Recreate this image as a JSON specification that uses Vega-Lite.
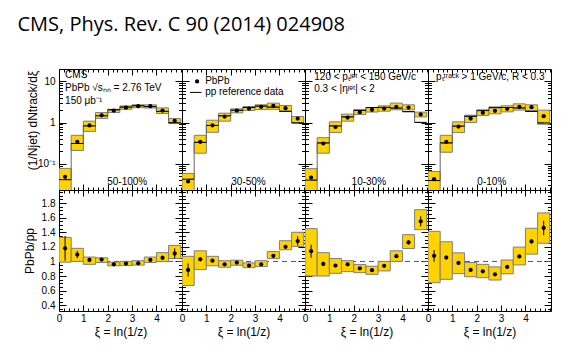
{
"$schema":"https://vega.github.io/schema/vega-lite/v6.json",
"padding":{"left":17,"top":15,"right":5,"bottom":5},
"background":"white",
"title":{"text":"CMS, Phys. Rev. C 90 (2014) 024908","anchor":"start","frame":"bounds","font":"Open Sans","fontSize":20,"fontWeight":"normal","color":"black","baseline":"alphabetic","offset":17,"dx":-5},
"config":{
 "view":{"stroke":"black","strokeWidth":1},
 "axis":{"labelFont":"Liberation Sans","labelFontSize":10,"labelColor":"black","titleFont":"Liberation Sans","titleFontSize":12,"titleFontWeight":"normal","titleColor":"black","tickColor":"black","domain":false,"grid":false,"labelFlush":false,"labelOverlap":false,"zindex":1},
 "text":{"font":"Liberation Sans","color":"black"}
},
"data":{"values":[
{"c":"50-100%","lo":0,"hi":0.5,"x":0.25,"pb":0.048,"shi":0.077,"slo":0.015,"pp":0.041,"r":1.18,"rhi":1.33,"rlo":0.99,"el":1.01,"eh":1.35},
{"c":"50-100%","lo":0.5,"hi":1,"x":0.75,"pb":0.34,"shi":0.49,"slo":0.21,"pp":0.31,"r":1.095,"rhi":1.18,"rlo":1.0,"el":1.045,"eh":1.145},
{"c":"50-100%","lo":1,"hi":1.5,"x":1.25,"pb":0.85,"shi":1.08,"slo":0.61,"pp":0.83,"r":1.02,"rhi":1.06,"rlo":0.96,"el":0.99,"eh":1.05},
{"c":"50-100%","lo":1.5,"hi":2,"x":1.75,"pb":1.5,"shi":1.75,"slo":1.25,"pp":1.46,"r":1.025,"rhi":1.05,"rlo":0.985,"el":1.005,"eh":1.045},
{"c":"50-100%","lo":2,"hi":2.5,"x":2.25,"pb":1.96,"shi":2.1,"slo":1.75,"pp":2.04,"r":0.96,"rhi":0.99,"rlo":0.94,"el":0.945,"eh":0.975},
{"c":"50-100%","lo":2.5,"hi":3,"x":2.75,"pb":2.3,"shi":2.54,"slo":2.1,"pp":2.37,"r":0.97,"rhi":1.0,"rlo":0.943,"el":0.955,"eh":0.985},
{"c":"50-100%","lo":3,"hi":3.5,"x":3.25,"pb":2.5,"shi":2.7,"slo":2.3,"pp":2.56,"r":0.975,"rhi":1.01,"rlo":0.95,"el":0.96,"eh":0.99},
{"c":"50-100%","lo":3.5,"hi":4,"x":3.75,"pb":2.5,"shi":2.7,"slo":2.25,"pp":2.45,"r":1.02,"rhi":1.06,"rlo":0.985,"el":1.005,"eh":1.035},
{"c":"50-100%","lo":4,"hi":4.5,"x":4.25,"pb":1.96,"shi":2.27,"slo":1.66,"pp":1.87,"r":1.05,"rhi":1.12,"rlo":1.0,"el":1.02,"eh":1.08},
{"c":"50-100%","lo":4.5,"hi":5,"x":4.75,"pb":1.1,"shi":1.25,"slo":0.95,"pp":0.99,"r":1.11,"rhi":1.22,"rlo":1.04,"el":1.04,"eh":1.18},
{"c":"30-50%","lo":0,"hi":0.5,"x":0.25,"pb":0.037,"shi":0.058,"slo":0.015,"pp":0.042,"r":0.883,"rhi":1.07,"rlo":0.67,"el":0.793,"eh":0.973},
{"c":"30-50%","lo":0.5,"hi":1,"x":0.75,"pb":0.34,"shi":0.49,"slo":0.18,"pp":0.33,"r":1.03,"rhi":1.146,"rlo":0.888,"el":1.0,"eh":1.06},
{"c":"30-50%","lo":1,"hi":1.5,"x":1.25,"pb":0.86,"shi":1.14,"slo":0.58,"pp":0.85,"r":1.01,"rhi":1.07,"rlo":0.94,"el":0.99,"eh":1.03},
{"c":"30-50%","lo":1.5,"hi":2,"x":1.75,"pb":1.4,"shi":1.69,"slo":1.08,"pp":1.46,"r":0.96,"rhi":1.01,"rlo":0.92,"el":0.945,"eh":0.975},
{"c":"30-50%","lo":2,"hi":2.5,"x":2.25,"pb":1.96,"shi":2.15,"slo":1.72,"pp":1.99,"r":0.985,"rhi":1.017,"rlo":0.948,"el":0.97,"eh":1.0},
{"c":"30-50%","lo":2.5,"hi":3,"x":2.75,"pb":2.19,"shi":2.46,"slo":1.96,"pp":2.32,"r":0.943,"rhi":0.98,"rlo":0.915,"el":0.928,"eh":0.958},
{"c":"30-50%","lo":3,"hi":3.5,"x":3.25,"pb":2.41,"shi":2.7,"slo":2.07,"pp":2.51,"r":0.96,"rhi":1.01,"rlo":0.93,"el":0.945,"eh":0.975},
{"c":"30-50%","lo":3.5,"hi":4,"x":3.75,"pb":2.55,"shi":2.96,"slo":2.1,"pp":2.37,"r":1.077,"rhi":1.137,"rlo":1.04,"el":1.057,"eh":1.097},
{"c":"30-50%","lo":4,"hi":4.5,"x":4.25,"pb":2.24,"shi":2.6,"slo":1.89,"pp":1.87,"r":1.2,"rhi":1.284,"rlo":1.16,"el":1.17,"eh":1.23},
{"c":"30-50%","lo":4.5,"hi":5,"x":4.75,"pb":1.25,"shi":1.4,"slo":1.0,"pp":0.98,"r":1.28,"rhi":1.4,"rlo":1.206,"el":1.215,"eh":1.345},
{"c":"10-30%","lo":0,"hi":0.5,"x":0.25,"pb":0.046,"shi":0.076,"slo":0.015,"pp":0.04,"r":1.14,"rhi":1.45,"rlo":0.8,"el":1.05,"eh":1.23},
{"c":"10-30%","lo":0.5,"hi":1,"x":0.75,"pb":0.31,"shi":0.43,"slo":0.18,"pp":0.32,"r":0.966,"rhi":1.12,"rlo":0.8,"el":0.936,"eh":0.996},
{"c":"10-30%","lo":1,"hi":1.5,"x":1.25,"pb":0.78,"shi":1.04,"slo":0.57,"pp":0.83,"r":0.943,"rhi":1.04,"rlo":0.837,"el":0.923,"eh":0.963},
{"c":"10-30%","lo":1.5,"hi":2,"x":1.75,"pb":1.32,"shi":1.6,"slo":1.08,"pp":1.375,"r":0.96,"rhi":1.01,"rlo":0.86,"el":0.945,"eh":0.975},
{"c":"10-30%","lo":2,"hi":2.5,"x":2.25,"pb":1.79,"shi":2.04,"slo":1.57,"pp":1.98,"r":0.906,"rhi":0.957,"rlo":0.846,"el":0.891,"eh":0.921},
{"c":"10-30%","lo":2.5,"hi":3,"x":2.75,"pb":2.04,"shi":2.3,"slo":1.8,"pp":2.32,"r":0.88,"rhi":0.934,"rlo":0.823,"el":0.865,"eh":0.895},
{"c":"10-30%","lo":3,"hi":3.5,"x":3.25,"pb":2.19,"shi":2.55,"slo":1.89,"pp":2.33,"r":0.94,"rhi":1.0,"rlo":0.87,"el":0.925,"eh":0.955},
{"c":"10-30%","lo":3.5,"hi":4,"x":3.75,"pb":2.41,"shi":2.97,"slo":2.04,"pp":2.25,"r":1.072,"rhi":1.146,"rlo":1.0,"el":1.052,"eh":1.092},
{"c":"10-30%","lo":4,"hi":4.5,"x":4.25,"pb":2.32,"shi":2.7,"slo":2.04,"pp":1.84,"r":1.26,"rhi":1.367,"rlo":1.178,"el":1.23,"eh":1.29},
{"c":"10-30%","lo":4.5,"hi":5,"x":4.75,"pb":1.57,"shi":1.79,"slo":1.37,"pp":1.01,"r":1.55,"rhi":1.71,"rlo":1.436,"el":1.48,"eh":1.62},
{"c":"0-10%","lo":0,"hi":0.5,"x":0.25,"pb":0.042,"shi":0.065,"slo":0.015,"pp":0.039,"r":1.077,"rhi":1.413,"rlo":0.708,"el":0.997,"eh":1.157},
{"c":"0-10%","lo":0.5,"hi":1,"x":0.75,"pb":0.34,"shi":0.49,"slo":0.19,"pp":0.32,"r":1.054,"rhi":1.27,"rlo":0.755,"el":1.024,"eh":1.084},
{"c":"0-10%","lo":1,"hi":1.5,"x":1.25,"pb":0.8,"shi":1.04,"slo":0.57,"pp":0.82,"r":0.98,"rhi":1.118,"rlo":0.833,"el":0.96,"eh":1.0},
{"c":"0-10%","lo":1.5,"hi":2,"x":1.75,"pb":1.25,"shi":1.51,"slo":1.0,"pp":1.42,"r":0.883,"rhi":0.985,"rlo":0.79,"el":0.868,"eh":0.898},
{"c":"0-10%","lo":2,"hi":2.5,"x":2.25,"pb":1.72,"shi":1.93,"slo":1.48,"pp":1.99,"r":0.865,"rhi":0.96,"rlo":0.777,"el":0.85,"eh":0.88},
{"c":"0-10%","lo":2.5,"hi":3,"x":2.75,"pb":1.93,"shi":2.24,"slo":1.63,"pp":2.35,"r":0.823,"rhi":0.925,"rlo":0.745,"el":0.808,"eh":0.838},
{"c":"0-10%","lo":3,"hi":3.5,"x":3.25,"pb":2.15,"shi":2.55,"slo":1.82,"pp":2.32,"r":0.925,"rhi":1.02,"rlo":0.83,"el":0.91,"eh":0.94},
{"c":"0-10%","lo":3.5,"hi":4,"x":3.75,"pb":2.41,"shi":2.85,"slo":2.0,"pp":2.26,"r":1.068,"rhi":1.197,"rlo":0.952,"el":1.048,"eh":1.088},
{"c":"0-10%","lo":4,"hi":4.5,"x":4.25,"pb":2.37,"shi":2.7,"slo":1.96,"pp":1.86,"r":1.275,"rhi":1.455,"rlo":1.1,"el":1.245,"eh":1.305},
{"c":"0-10%","lo":4.5,"hi":5,"x":4.75,"pb":1.43,"shi":2.0,"slo":0.91,"pp":0.98,"r":1.46,"rhi":1.666,"rlo":1.25,"el":1.36,"eh":1.56}
]},
"columns":4,
"spacing":0,
"bounds":"flush",
"align":"all",
"concat":[
{
 "width":123,"height":121,
 "transform":[{"filter":"datum.c == '50-100%'"}],
 "resolve":{"axis":{"x":"independent","y":"independent"}},
 "layer":[
  {"mark":{"type":"rect","fill":"#FFD300","stroke":"#7F7F7F","strokeWidth":1,"clip":true},
   "encoding":{
    "x":{"field":"lo","type":"quantitative","scale":{"domain":[0,5.05],"nice":false,"zero":false},"axis":{"orient":"bottom","values":[0,1,2,3,4],"tickSize":-6,"labels":false,"title":null}},
    "x2":{"field":"hi"},
    "y":{"field":"shi","type":"quantitative","scale":{"type":"log","domain":[0.023,20],"nice":false},"axis":{"orient":"left","values":[0.1,1,10],"tickSize":-7,"labelPadding":11,"labelExpr":"datum.value < 0.5 ? '10⁻¹' : (datum.value > 5 ? '10' : '1')","title":"(1/Njet) dNtrack/dξ","titleX":-20,"titleY":51}},
    "y2":{"field":"slo"}}},
  {"mark":{"type":"line","interpolate":"step","color":"#666666","strokeWidth":1,"clip":true},
   "encoding":{"x":{"field":"x","type":"quantitative","axis":{"orient":"top","values":[0,1,2,3,4],"tickSize":-6,"labels":false,"title":null}},
    "y":{"field":"pp","type":"quantitative","axis":{"orient":"right","values":[0.1,1,10],"tickSize":-7,"labels":false,"title":null}}}},
  {"mark":{"type":"rule","color":"black","strokeWidth":1,"clip":true},
   "encoding":{"x":{"field":"lo","type":"quantitative","axis":{"orient":"bottom","values":[0.2,0.4,0.6,0.8,1.2,1.4,1.6,1.8,2.2,2.4,2.6,2.8,3.2,3.4,3.6,3.8,4.2,4.4,4.6,4.8,5],"tickSize":-3,"labels":false,"title":null}},"x2":{"field":"hi"},
    "y":{"field":"pp","type":"quantitative","axis":{"orient":"left","values":[0.03,0.04,0.05,0.06,0.07,0.08,0.09,0.2,0.3,0.4,0.5,0.6,0.7,0.8,0.9,2,3,4,5,6,7,8,9],"tickSize":-3.5,"labels":false,"title":null}}}},
  {"mark":{"type":"point","filled":true,"color":"black","size":18,"opacity":1},
   "encoding":{"x":{"field":"x","type":"quantitative","axis":{"orient":"top","values":[0.2,0.4,0.6,0.8,1.2,1.4,1.6,1.8,2.2,2.4,2.6,2.8,3.2,3.4,3.6,3.8,4.2,4.4,4.6,4.8,5],"tickSize":-3,"labels":false,"title":null}},
    "y":{"field":"pb","type":"quantitative","axis":{"orient":"right","values":[0.03,0.04,0.05,0.06,0.07,0.08,0.09,0.2,0.3,0.4,0.5,0.6,0.7,0.8,0.9,2,3,4,5,6,7,8,9],"tickSize":-3.5,"labels":false,"title":null}}}},
  {"data":{"values":[{}]},"mark":{"type":"text","align":"left","baseline":"top","fontSize":10,"lineHeight":13},
   "encoding":{"x":{"datum":0.25,"axis":null},"y":{"datum":18.5,"axis":null},"text":{"value":["CMS","PbPb √sₙₙ = 2.76 TeV","150 μb⁻¹"]}}},
  {"data":{"values":[{}]},"mark":{"type":"text","align":"center","baseline":"middle","fontSize":10},
   "encoding":{"x":{"datum":2.8,"axis":null},"y":{"datum":0.035,"axis":null},"text":{"value":"50-100%"}}}
 ]
},
{
 "width":123,"height":121,
 "transform":[{"filter":"datum.c == '30-50%'"}],
 "resolve":{"axis":{"x":"independent","y":"independent"}},
 "layer":[
  {"mark":{"type":"rect","fill":"#FFD300","stroke":"#7F7F7F","strokeWidth":1,"clip":true},
   "encoding":{
    "x":{"field":"lo","type":"quantitative","scale":{"domain":[0,5.05],"nice":false,"zero":false},"axis":{"orient":"bottom","values":[0,1,2,3,4],"tickSize":-6,"labels":false,"title":null}},
    "x2":{"field":"hi"},
    "y":{"field":"shi","type":"quantitative","scale":{"type":"log","domain":[0.023,20],"nice":false},"axis":{"orient":"left","values":[0.1,1,10],"tickSize":-7,"labels":false,"title":null}},
    "y2":{"field":"slo"}}},
  {"mark":{"type":"line","interpolate":"step","color":"#666666","strokeWidth":1,"clip":true},
   "encoding":{"x":{"field":"x","type":"quantitative","axis":{"orient":"top","values":[0,1,2,3,4],"tickSize":-6,"labels":false,"title":null}},
    "y":{"field":"pp","type":"quantitative","axis":{"orient":"right","values":[0.1,1,10],"tickSize":-7,"labels":false,"title":null}}}},
  {"mark":{"type":"rule","color":"black","strokeWidth":1,"clip":true},
   "encoding":{"x":{"field":"lo","type":"quantitative","axis":{"orient":"bottom","values":[0.2,0.4,0.6,0.8,1.2,1.4,1.6,1.8,2.2,2.4,2.6,2.8,3.2,3.4,3.6,3.8,4.2,4.4,4.6,4.8,5],"tickSize":-3,"labels":false,"title":null}},"x2":{"field":"hi"},
    "y":{"field":"pp","type":"quantitative","axis":{"orient":"left","values":[0.03,0.04,0.05,0.06,0.07,0.08,0.09,0.2,0.3,0.4,0.5,0.6,0.7,0.8,0.9,2,3,4,5,6,7,8,9],"tickSize":-3.5,"labels":false,"title":null}}}},
  {"mark":{"type":"point","filled":true,"color":"black","size":18,"opacity":1},
   "encoding":{"x":{"field":"x","type":"quantitative","axis":{"orient":"top","values":[0.2,0.4,0.6,0.8,1.2,1.4,1.6,1.8,2.2,2.4,2.6,2.8,3.2,3.4,3.6,3.8,4.2,4.4,4.6,4.8,5],"tickSize":-3,"labels":false,"title":null}},
    "y":{"field":"pb","type":"quantitative","axis":{"orient":"right","values":[0.03,0.04,0.05,0.06,0.07,0.08,0.09,0.2,0.3,0.4,0.5,0.6,0.7,0.8,0.9,2,3,4,5,6,7,8,9],"tickSize":-3.5,"labels":false,"title":null}}}},
  {"data":{"values":[{}]},"mark":{"type":"point","filled":true,"color":"black","size":18,"opacity":1},
   "encoding":{"x":{"datum":0.62,"axis":null},"y":{"datum":10,"axis":null}}},
  {"data":{"values":[{}]},"mark":{"type":"rule","color":"black","strokeWidth":1},
   "encoding":{"x":{"datum":0.33,"axis":null},"x2":{"datum":0.8},"y":{"datum":5.4,"axis":null}}},
  {"data":{"values":[{}]},"mark":{"type":"text","align":"left","baseline":"top","fontSize":10,"lineHeight":11},
   "encoding":{"x":{"datum":0.95,"axis":null},"y":{"datum":13.2,"axis":null},"text":{"value":["PbPb","pp reference data"]}}},
  {"data":{"values":[{}]},"mark":{"type":"text","align":"center","baseline":"middle","fontSize":10},
   "encoding":{"x":{"datum":2.73,"axis":null},"y":{"datum":0.035,"axis":null},"text":{"value":"30-50%"}}}
 ]
},
{
 "width":123,"height":121,
 "transform":[{"filter":"datum.c == '10-30%'"}],
 "resolve":{"axis":{"x":"independent","y":"independent"}},
 "layer":[
  {"mark":{"type":"rect","fill":"#FFD300","stroke":"#7F7F7F","strokeWidth":1,"clip":true},
   "encoding":{
    "x":{"field":"lo","type":"quantitative","scale":{"domain":[0,5.05],"nice":false,"zero":false},"axis":{"orient":"bottom","values":[0,1,2,3,4],"tickSize":-6,"labels":false,"title":null}},
    "x2":{"field":"hi"},
    "y":{"field":"shi","type":"quantitative","scale":{"type":"log","domain":[0.023,20],"nice":false},"axis":{"orient":"left","values":[0.1,1,10],"tickSize":-7,"labels":false,"title":null}},
    "y2":{"field":"slo"}}},
  {"mark":{"type":"line","interpolate":"step","color":"#666666","strokeWidth":1,"clip":true},
   "encoding":{"x":{"field":"x","type":"quantitative","axis":{"orient":"top","values":[0,1,2,3,4],"tickSize":-6,"labels":false,"title":null}},
    "y":{"field":"pp","type":"quantitative","axis":{"orient":"right","values":[0.1,1,10],"tickSize":-7,"labels":false,"title":null}}}},
  {"mark":{"type":"rule","color":"black","strokeWidth":1,"clip":true},
   "encoding":{"x":{"field":"lo","type":"quantitative","axis":{"orient":"bottom","values":[0.2,0.4,0.6,0.8,1.2,1.4,1.6,1.8,2.2,2.4,2.6,2.8,3.2,3.4,3.6,3.8,4.2,4.4,4.6,4.8,5],"tickSize":-3,"labels":false,"title":null}},"x2":{"field":"hi"},
    "y":{"field":"pp","type":"quantitative","axis":{"orient":"left","values":[0.03,0.04,0.05,0.06,0.07,0.08,0.09,0.2,0.3,0.4,0.5,0.6,0.7,0.8,0.9,2,3,4,5,6,7,8,9],"tickSize":-3.5,"labels":false,"title":null}}}},
  {"mark":{"type":"point","filled":true,"color":"black","size":18,"opacity":1},
   "encoding":{"x":{"field":"x","type":"quantitative","axis":{"orient":"top","values":[0.2,0.4,0.6,0.8,1.2,1.4,1.6,1.8,2.2,2.4,2.6,2.8,3.2,3.4,3.6,3.8,4.2,4.4,4.6,4.8,5],"tickSize":-3,"labels":false,"title":null}},
    "y":{"field":"pb","type":"quantitative","axis":{"orient":"right","values":[0.03,0.04,0.05,0.06,0.07,0.08,0.09,0.2,0.3,0.4,0.5,0.6,0.7,0.8,0.9,2,3,4,5,6,7,8,9],"tickSize":-3.5,"labels":false,"title":null}}}},
  {"data":{"values":[{}]},"mark":{"type":"text","align":"left","baseline":"top","fontSize":10,"lineHeight":11.5},
   "encoding":{"x":{"datum":0.38,"axis":null},"y":{"datum":16.9,"axis":null},"text":{"value":["120 < pₜʲᵉᵗ < 150 GeV/c","0.3 < |ηʲᵉᵗ| < 2"]}}},
  {"data":{"values":[{}]},"mark":{"type":"text","align":"center","baseline":"middle","fontSize":10},
   "encoding":{"x":{"datum":2.62,"axis":null},"y":{"datum":0.035,"axis":null},"text":{"value":"10-30%"}}}
 ]
},
{
 "width":123,"height":121,
 "transform":[{"filter":"datum.c == '0-10%'"}],
 "resolve":{"axis":{"x":"independent","y":"independent"}},
 "layer":[
  {"mark":{"type":"rect","fill":"#FFD300","stroke":"#7F7F7F","strokeWidth":1,"clip":true},
   "encoding":{
    "x":{"field":"lo","type":"quantitative","scale":{"domain":[0,5.05],"nice":false,"zero":false},"axis":{"orient":"bottom","values":[0,1,2,3,4],"tickSize":-6,"labels":false,"title":null}},
    "x2":{"field":"hi"},
    "y":{"field":"shi","type":"quantitative","scale":{"type":"log","domain":[0.023,20],"nice":false},"axis":{"orient":"left","values":[0.1,1,10],"tickSize":-7,"labels":false,"title":null}},
    "y2":{"field":"slo"}}},
  {"mark":{"type":"line","interpolate":"step","color":"#666666","strokeWidth":1,"clip":true},
   "encoding":{"x":{"field":"x","type":"quantitative","axis":{"orient":"top","values":[0,1,2,3,4],"tickSize":-6,"labels":false,"title":null}},
    "y":{"field":"pp","type":"quantitative","axis":{"orient":"right","values":[0.1,1,10],"tickSize":-7,"labels":false,"title":null}}}},
  {"mark":{"type":"rule","color":"black","strokeWidth":1,"clip":true},
   "encoding":{"x":{"field":"lo","type":"quantitative","axis":{"orient":"bottom","values":[0.2,0.4,0.6,0.8,1.2,1.4,1.6,1.8,2.2,2.4,2.6,2.8,3.2,3.4,3.6,3.8,4.2,4.4,4.6,4.8,5],"tickSize":-3,"labels":false,"title":null}},"x2":{"field":"hi"},
    "y":{"field":"pp","type":"quantitative","axis":{"orient":"left","values":[0.03,0.04,0.05,0.06,0.07,0.08,0.09,0.2,0.3,0.4,0.5,0.6,0.7,0.8,0.9,2,3,4,5,6,7,8,9],"tickSize":-3.5,"labels":false,"title":null}}}},
  {"mark":{"type":"point","filled":true,"color":"black","size":18,"opacity":1},
   "encoding":{"x":{"field":"x","type":"quantitative","axis":{"orient":"top","values":[0.2,0.4,0.6,0.8,1.2,1.4,1.6,1.8,2.2,2.4,2.6,2.8,3.2,3.4,3.6,3.8,4.2,4.4,4.6,4.8,5],"tickSize":-3,"labels":false,"title":null}},
    "y":{"field":"pb","type":"quantitative","axis":{"orient":"right","values":[0.03,0.04,0.05,0.06,0.07,0.08,0.09,0.2,0.3,0.4,0.5,0.6,0.7,0.8,0.9,2,3,4,5,6,7,8,9],"tickSize":-3.5,"labels":false,"title":null}}}},
  {"data":{"values":[{}]},"mark":{"type":"text","align":"left","baseline":"top","fontSize":10},
   "encoding":{"x":{"datum":0.33,"axis":null},"y":{"datum":16.9,"axis":null},"text":{"value":"pₜᵗʳᵃᶜᵏ > 1 GeV/c, R < 0.3"}}},
  {"data":{"values":[{}]},"mark":{"type":"text","align":"center","baseline":"middle","fontSize":10},
   "encoding":{"x":{"datum":2.62,"axis":null},"y":{"datum":0.035,"axis":null},"text":{"value":"0-10%"}}}
 ]
},
{
 "width":123,"height":121,
 "transform":[{"filter":"datum.c == '50-100%'"}],
 "resolve":{"axis":{"x":"independent","y":"independent"}},
 "layer":[
  {"data":{"values":[{}]},"mark":{"type":"rule","strokeDash":[5,4],"color":"#555555","strokeWidth":1},"encoding":{"y":{"datum":1,"axis":null}}},
  {"mark":{"type":"rect","fill":"#FFD300","stroke":"#7F7F7F","strokeWidth":1,"clip":true},
   "encoding":{"x":{"field":"lo","type":"quantitative","scale":{"domain":[0,5.05],"nice":false,"zero":false},"axis":{"orient":"bottom","values":[0,1,2,3,4],"tickSize":-6,"labelPadding":8,"title":"ξ = ln(1/z)","titlePadding":3}},"x2":{"field":"hi"},
    "y":{"field":"rhi","type":"quantitative","scale":{"domain":[0.32,1.98],"nice":false,"zero":false},"axis":{"orient":"left","values":[0.4,0.6,0.8,1,1.2,1.4,1.6,1.8],"format":"~g","tickSize":-7,"labelPadding":11,"title":"PbPb/pp","titleX":-23}},"y2":{"field":"rlo"}}},
  {"mark":{"type":"rule","color":"black","strokeWidth":1},
   "encoding":{"x":{"field":"x","type":"quantitative","axis":{"orient":"top","values":[0,1,2,3,4],"tickSize":-6,"labels":false,"title":null}},"y":{"field":"el","type":"quantitative","axis":{"orient":"right","values":[0.4,0.6,0.8,1,1.2,1.4,1.6,1.8],"tickSize":-7,"labels":false,"title":null}},"y2":{"field":"eh"}}},
  {"mark":{"type":"point","filled":true,"color":"black","size":18,"opacity":1},
   "encoding":{"x":{"field":"x","type":"quantitative","axis":{"orient":"bottom","values":[0.2,0.4,0.6,0.8,1.2,1.4,1.6,1.8,2.2,2.4,2.6,2.8,3.2,3.4,3.6,3.8,4.2,4.4,4.6,4.8,5],"tickSize":-3,"labels":false,"title":null}},"y":{"field":"r","type":"quantitative","axis":{"orient":"left","values":[0.35,0.45,0.5,0.55,0.65,0.7,0.75,0.85,0.9,0.95,1.05,1.1,1.15,1.25,1.3,1.35,1.45,1.5,1.55,1.65,1.7,1.75,1.85,1.9,1.95],"tickSize":-3.5,"labels":false,"title":null}}}},
  {"mark":{"type":"point","opacity":0},
   "encoding":{"x":{"field":"x","type":"quantitative","axis":{"orient":"top","values":[0.2,0.4,0.6,0.8,1.2,1.4,1.6,1.8,2.2,2.4,2.6,2.8,3.2,3.4,3.6,3.8,4.2,4.4,4.6,4.8,5],"tickSize":-3,"labels":false,"title":null}},"y":{"field":"r","type":"quantitative","axis":{"orient":"right","values":[0.35,0.45,0.5,0.55,0.65,0.7,0.75,0.85,0.9,0.95,1.05,1.1,1.15,1.25,1.3,1.35,1.45,1.5,1.55,1.65,1.7,1.75,1.85,1.9,1.95],"tickSize":-3.5,"labels":false,"title":null}}}}
 ]
},
{
 "width":123,"height":121,
 "transform":[{"filter":"datum.c == '30-50%'"}],
 "resolve":{"axis":{"x":"independent","y":"independent"}},
 "layer":[
  {"data":{"values":[{}]},"mark":{"type":"rule","strokeDash":[5,4],"color":"#555555","strokeWidth":1},"encoding":{"y":{"datum":1,"axis":null}}},
  {"mark":{"type":"rect","fill":"#FFD300","stroke":"#7F7F7F","strokeWidth":1,"clip":true},
   "encoding":{"x":{"field":"lo","type":"quantitative","scale":{"domain":[0,5.05],"nice":false,"zero":false},"axis":{"orient":"bottom","values":[0,1,2,3,4],"tickSize":-6,"labelPadding":8,"title":"ξ = ln(1/z)","titlePadding":3}},"x2":{"field":"hi"},
    "y":{"field":"rhi","type":"quantitative","scale":{"domain":[0.32,1.98],"nice":false,"zero":false},"axis":{"orient":"left","values":[0.4,0.6,0.8,1,1.2,1.4,1.6,1.8],"tickSize":-7,"labels":false,"title":null}},"y2":{"field":"rlo"}}},
  {"mark":{"type":"rule","color":"black","strokeWidth":1},
   "encoding":{"x":{"field":"x","type":"quantitative","axis":{"orient":"top","values":[0,1,2,3,4],"tickSize":-6,"labels":false,"title":null}},"y":{"field":"el","type":"quantitative","axis":{"orient":"right","values":[0.4,0.6,0.8,1,1.2,1.4,1.6,1.8],"tickSize":-7,"labels":false,"title":null}},"y2":{"field":"eh"}}},
  {"mark":{"type":"point","filled":true,"color":"black","size":18,"opacity":1},
   "encoding":{"x":{"field":"x","type":"quantitative","axis":{"orient":"bottom","values":[0.2,0.4,0.6,0.8,1.2,1.4,1.6,1.8,2.2,2.4,2.6,2.8,3.2,3.4,3.6,3.8,4.2,4.4,4.6,4.8,5],"tickSize":-3,"labels":false,"title":null}},"y":{"field":"r","type":"quantitative","axis":{"orient":"left","values":[0.35,0.45,0.5,0.55,0.65,0.7,0.75,0.85,0.9,0.95,1.05,1.1,1.15,1.25,1.3,1.35,1.45,1.5,1.55,1.65,1.7,1.75,1.85,1.9,1.95],"tickSize":-3.5,"labels":false,"title":null}}}},
  {"mark":{"type":"point","opacity":0},
   "encoding":{"x":{"field":"x","type":"quantitative","axis":{"orient":"top","values":[0.2,0.4,0.6,0.8,1.2,1.4,1.6,1.8,2.2,2.4,2.6,2.8,3.2,3.4,3.6,3.8,4.2,4.4,4.6,4.8,5],"tickSize":-3,"labels":false,"title":null}},"y":{"field":"r","type":"quantitative","axis":{"orient":"right","values":[0.35,0.45,0.5,0.55,0.65,0.7,0.75,0.85,0.9,0.95,1.05,1.1,1.15,1.25,1.3,1.35,1.45,1.5,1.55,1.65,1.7,1.75,1.85,1.9,1.95],"tickSize":-3.5,"labels":false,"title":null}}}}
 ]
},
{
 "width":123,"height":121,
 "transform":[{"filter":"datum.c == '10-30%'"}],
 "resolve":{"axis":{"x":"independent","y":"independent"}},
 "layer":[
  {"data":{"values":[{}]},"mark":{"type":"rule","strokeDash":[5,4],"color":"#555555","strokeWidth":1},"encoding":{"y":{"datum":1,"axis":null}}},
  {"mark":{"type":"rect","fill":"#FFD300","stroke":"#7F7F7F","strokeWidth":1,"clip":true},
   "encoding":{"x":{"field":"lo","type":"quantitative","scale":{"domain":[0,5.05],"nice":false,"zero":false},"axis":{"orient":"bottom","values":[0,1,2,3,4],"tickSize":-6,"labelPadding":8,"title":"ξ = ln(1/z)","titlePadding":3}},"x2":{"field":"hi"},
    "y":{"field":"rhi","type":"quantitative","scale":{"domain":[0.32,1.98],"nice":false,"zero":false},"axis":{"orient":"left","values":[0.4,0.6,0.8,1,1.2,1.4,1.6,1.8],"tickSize":-7,"labels":false,"title":null}},"y2":{"field":"rlo"}}},
  {"mark":{"type":"rule","color":"black","strokeWidth":1},
   "encoding":{"x":{"field":"x","type":"quantitative","axis":{"orient":"top","values":[0,1,2,3,4],"tickSize":-6,"labels":false,"title":null}},"y":{"field":"el","type":"quantitative","axis":{"orient":"right","values":[0.4,0.6,0.8,1,1.2,1.4,1.6,1.8],"tickSize":-7,"labels":false,"title":null}},"y2":{"field":"eh"}}},
  {"mark":{"type":"point","filled":true,"color":"black","size":18,"opacity":1},
   "encoding":{"x":{"field":"x","type":"quantitative","axis":{"orient":"bottom","values":[0.2,0.4,0.6,0.8,1.2,1.4,1.6,1.8,2.2,2.4,2.6,2.8,3.2,3.4,3.6,3.8,4.2,4.4,4.6,4.8,5],"tickSize":-3,"labels":false,"title":null}},"y":{"field":"r","type":"quantitative","axis":{"orient":"left","values":[0.35,0.45,0.5,0.55,0.65,0.7,0.75,0.85,0.9,0.95,1.05,1.1,1.15,1.25,1.3,1.35,1.45,1.5,1.55,1.65,1.7,1.75,1.85,1.9,1.95],"tickSize":-3.5,"labels":false,"title":null}}}},
  {"mark":{"type":"point","opacity":0},
   "encoding":{"x":{"field":"x","type":"quantitative","axis":{"orient":"top","values":[0.2,0.4,0.6,0.8,1.2,1.4,1.6,1.8,2.2,2.4,2.6,2.8,3.2,3.4,3.6,3.8,4.2,4.4,4.6,4.8,5],"tickSize":-3,"labels":false,"title":null}},"y":{"field":"r","type":"quantitative","axis":{"orient":"right","values":[0.35,0.45,0.5,0.55,0.65,0.7,0.75,0.85,0.9,0.95,1.05,1.1,1.15,1.25,1.3,1.35,1.45,1.5,1.55,1.65,1.7,1.75,1.85,1.9,1.95],"tickSize":-3.5,"labels":false,"title":null}}}}
 ]
},
{
 "width":123,"height":121,
 "transform":[{"filter":"datum.c == '0-10%'"}],
 "resolve":{"axis":{"x":"independent","y":"independent"}},
 "layer":[
  {"data":{"values":[{}]},"mark":{"type":"rule","strokeDash":[5,4],"color":"#555555","strokeWidth":1},"encoding":{"y":{"datum":1,"axis":null}}},
  {"mark":{"type":"rect","fill":"#FFD300","stroke":"#7F7F7F","strokeWidth":1,"clip":true},
   "encoding":{"x":{"field":"lo","type":"quantitative","scale":{"domain":[0,5.05],"nice":false,"zero":false},"axis":{"orient":"bottom","values":[0,1,2,3,4],"tickSize":-6,"labelPadding":8,"title":"ξ = ln(1/z)","titlePadding":3}},"x2":{"field":"hi"},
    "y":{"field":"rhi","type":"quantitative","scale":{"domain":[0.32,1.98],"nice":false,"zero":false},"axis":{"orient":"left","values":[0.4,0.6,0.8,1,1.2,1.4,1.6,1.8],"tickSize":-7,"labels":false,"title":null}},"y2":{"field":"rlo"}}},
  {"mark":{"type":"rule","color":"black","strokeWidth":1},
   "encoding":{"x":{"field":"x","type":"quantitative","axis":{"orient":"top","values":[0,1,2,3,4],"tickSize":-6,"labels":false,"title":null}},"y":{"field":"el","type":"quantitative","axis":{"orient":"right","values":[0.4,0.6,0.8,1,1.2,1.4,1.6,1.8],"tickSize":-7,"labels":false,"title":null}},"y2":{"field":"eh"}}},
  {"mark":{"type":"point","filled":true,"color":"black","size":18,"opacity":1},
   "encoding":{"x":{"field":"x","type":"quantitative","axis":{"orient":"bottom","values":[0.2,0.4,0.6,0.8,1.2,1.4,1.6,1.8,2.2,2.4,2.6,2.8,3.2,3.4,3.6,3.8,4.2,4.4,4.6,4.8,5],"tickSize":-3,"labels":false,"title":null}},"y":{"field":"r","type":"quantitative","axis":{"orient":"left","values":[0.35,0.45,0.5,0.55,0.65,0.7,0.75,0.85,0.9,0.95,1.05,1.1,1.15,1.25,1.3,1.35,1.45,1.5,1.55,1.65,1.7,1.75,1.85,1.9,1.95],"tickSize":-3.5,"labels":false,"title":null}}}},
  {"mark":{"type":"point","opacity":0},
   "encoding":{"x":{"field":"x","type":"quantitative","axis":{"orient":"top","values":[0.2,0.4,0.6,0.8,1.2,1.4,1.6,1.8,2.2,2.4,2.6,2.8,3.2,3.4,3.6,3.8,4.2,4.4,4.6,4.8,5],"tickSize":-3,"labels":false,"title":null}},"y":{"field":"r","type":"quantitative","axis":{"orient":"right","values":[0.35,0.45,0.5,0.55,0.65,0.7,0.75,0.85,0.9,0.95,1.05,1.1,1.15,1.25,1.3,1.35,1.45,1.5,1.55,1.65,1.7,1.75,1.85,1.9,1.95],"tickSize":-3.5,"labels":false,"title":null}}}}
 ]
}
]
}
